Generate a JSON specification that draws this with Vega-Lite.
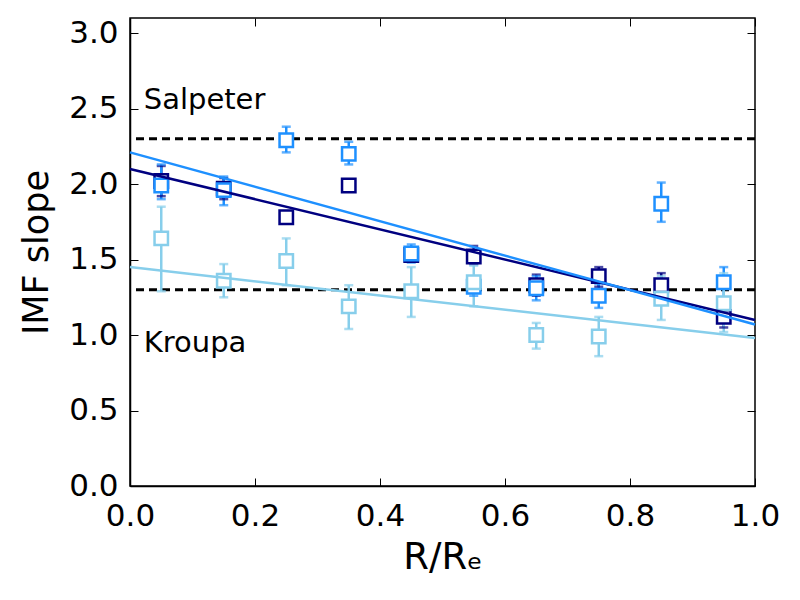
{
  "$schema": "https://vega.github.io/schema/vega-lite/v6.json",
  "width": 625,
  "height": 468,
  "autosize": "none",
  "padding": {"left": 130, "top": 18, "right": 45, "bottom": 114},
  "background": "white",
  "config": {
    "font": "DejaVu Sans",
    "view": {"stroke": "black", "strokeWidth": 1.5},
    "axis": {
      "grid": false,
      "domainColor": "black",
      "domainWidth": 1.5,
      "tickColor": "black",
      "tickWidth": 1,
      "tickSize": -8,
      "labelFlush": false,
      "labelFont": "DejaVu Sans",
      "labelFontSize": 31,
      "labelColor": "black",
      "titleFont": "DejaVu Sans",
      "titleFontWeight": "normal",
      "titleColor": "black"
    }
  },
  "datasets": {
    "points": [
      {"series": "a", "r": 0.05, "imf": 2.02, "lo": 1.92, "hi": 2.12},
      {"series": "a", "r": 0.15, "imf": 1.97, "lo": 1.90, "hi": 2.04},
      {"series": "a", "r": 0.25, "imf": 1.78, "lo": 1.76, "hi": 1.80},
      {"series": "a", "r": 0.35, "imf": 1.99, "lo": 1.97, "hi": 2.01},
      {"series": "a", "r": 0.45, "imf": 1.53, "lo": 1.49, "hi": 1.57},
      {"series": "a", "r": 0.55, "imf": 1.52, "lo": 1.47, "hi": 1.59},
      {"series": "a", "r": 0.65, "imf": 1.33, "lo": 1.26, "hi": 1.40},
      {"series": "a", "r": 0.75, "imf": 1.39, "lo": 1.32, "hi": 1.45},
      {"series": "a", "r": 0.85, "imf": 1.33, "lo": 1.25, "hi": 1.41},
      {"series": "a", "r": 0.95, "imf": 1.12, "lo": 1.05, "hi": 1.19},
      {"series": "b", "r": 0.05, "imf": 1.99, "lo": 1.90, "hi": 2.13},
      {"series": "b", "r": 0.15, "imf": 1.96, "lo": 1.86, "hi": 2.05},
      {"series": "b", "r": 0.25, "imf": 2.29, "lo": 2.21, "hi": 2.38},
      {"series": "b", "r": 0.35, "imf": 2.20, "lo": 2.13, "hi": 2.28},
      {"series": "b", "r": 0.45, "imf": 1.54, "lo": 1.48, "hi": 1.60},
      {"series": "b", "r": 0.55, "imf": 1.32, "lo": 1.26, "hi": 1.38},
      {"series": "b", "r": 0.65, "imf": 1.31, "lo": 1.23, "hi": 1.39},
      {"series": "b", "r": 0.75, "imf": 1.26, "lo": 1.18, "hi": 1.34},
      {"series": "b", "r": 0.85, "imf": 1.87, "lo": 1.75, "hi": 2.01},
      {"series": "b", "r": 0.95, "imf": 1.35, "lo": 1.25, "hi": 1.45},
      {"series": "c", "r": 0.05, "imf": 1.64, "lo": 1.29, "hi": 1.85},
      {"series": "c", "r": 0.15, "imf": 1.36, "lo": 1.25, "hi": 1.47},
      {"series": "c", "r": 0.25, "imf": 1.49, "lo": 1.33, "hi": 1.64},
      {"series": "c", "r": 0.35, "imf": 1.19, "lo": 1.04, "hi": 1.33},
      {"series": "c", "r": 0.45, "imf": 1.29, "lo": 1.12, "hi": 1.45},
      {"series": "c", "r": 0.55, "imf": 1.35, "lo": 1.19, "hi": 1.46},
      {"series": "c", "r": 0.65, "imf": 1.00, "lo": 0.91, "hi": 1.08},
      {"series": "c", "r": 0.75, "imf": 0.99, "lo": 0.86, "hi": 1.12},
      {"series": "c", "r": 0.85, "imf": 1.24, "lo": 1.10, "hi": 1.39},
      {"series": "c", "r": 0.95, "imf": 1.21, "lo": 1.02, "hi": 1.41}
    ],
    "fits": [
      {"series": "a", "r": 0, "imf": 2.10},
      {"series": "a", "r": 1, "imf": 1.10},
      {"series": "b", "r": 0, "imf": 2.21},
      {"series": "b", "r": 1, "imf": 1.07},
      {"series": "c", "r": 0, "imf": 1.45},
      {"series": "c", "r": 1, "imf": 0.98}
    ],
    "refs": [
      {"name": "Salpeter", "imf": 2.3, "r": 0.022, "ty": 2.5},
      {"name": "Kroupa", "imf": 1.3, "r": 0.022, "ty": 0.89}
    ]
  },
  "layer": [
    {
      "data": {"name": "refs"},
      "mark": {"type": "rule", "color": "black", "strokeWidth": 3, "strokeDash": [8, 5]},
      "encoding": {
        "y": {
          "field": "imf",
          "type": "quantitative",
          "scale": {"domain": [0, 3.1], "nice": false, "zero": false, "padding": 0},
          "axis": {
            "orient": "left",
            "values": [0, 0.5, 1, 1.5, 2, 2.5, 3],
            "format": ".1f",
            "labelPadding": 20,
            "title": "IMF slope",
            "titleFontSize": 35,
            "titlePadding": 14
          }
        }
      }
    },
    {
      "data": {"name": "points"},
      "mark": {"type": "rule", "strokeWidth": 2.5},
      "encoding": {
        "x": {
          "field": "r",
          "type": "quantitative",
          "scale": {"domain": [0, 1], "nice": false, "zero": false, "padding": 0},
          "axis": {
            "orient": "bottom",
            "values": [0, 0.2, 0.4, 0.6, 0.8, 1],
            "format": ".1f",
            "labelPadding": 23,
            "title": "R/Rₑ",
            "titleFontSize": 37,
            "titlePadding": 8
          }
        },
        "y": {"field": "lo", "type": "quantitative", "axis": null},
        "y2": {"field": "hi"},
        "color": {
          "field": "series",
          "type": "nominal",
          "scale": {"domain": ["a", "b", "c"], "range": ["#000080", "#1E90FF", "#87CEEB"]},
          "legend": null
        }
      }
    },
    {
      "data": {"name": "points"},
      "mark": {"type": "tick", "orient": "horizontal", "size": 9, "thickness": 2.5},
      "encoding": {
        "x": {"field": "r", "type": "quantitative", "axis": null},
        "y": {"field": "lo", "type": "quantitative", "axis": null},
        "color": {"field": "series", "type": "nominal", "legend": null}
      }
    },
    {
      "data": {"name": "points"},
      "mark": {"type": "tick", "orient": "horizontal", "size": 9, "thickness": 2.5},
      "encoding": {
        "x": {"field": "r", "type": "quantitative", "axis": null},
        "y": {"field": "hi", "type": "quantitative", "axis": null},
        "color": {"field": "series", "type": "nominal", "legend": null}
      }
    },
    {
      "data": {"name": "points"},
      "mark": {"type": "point", "shape": "square", "filled": false, "fill": "white", "fillOpacity": 1, "size": 180, "strokeWidth": 2.5, "opacity": 1},
      "encoding": {
        "x": {"field": "r", "type": "quantitative", "axis": null},
        "y": {"field": "imf", "type": "quantitative", "axis": null},
        "color": {"field": "series", "type": "nominal", "legend": null}
      }
    },
    {
      "data": {"name": "fits"},
      "mark": {"type": "line", "strokeWidth": 2.5},
      "encoding": {
        "x": {
          "field": "r",
          "type": "quantitative",
          "axis": {"orient": "top", "values": [0, 0.2, 0.4, 0.6, 0.8, 1], "labels": false, "title": null, "domain": false}
        },
        "y": {
          "field": "imf",
          "type": "quantitative",
          "axis": {"orient": "right", "values": [0, 0.5, 1, 1.5, 2, 2.5, 3], "labels": false, "title": null, "domain": false}
        },
        "color": {"field": "series", "type": "nominal", "legend": null}
      }
    },
    {
      "data": {"name": "refs"},
      "mark": {"type": "text", "align": "left", "baseline": "alphabetic", "fontSize": 29, "color": "black"},
      "encoding": {
        "x": {"field": "r", "type": "quantitative", "axis": null},
        "y": {"field": "ty", "type": "quantitative", "axis": null},
        "text": {"field": "name"}
      }
    }
  ],
  "resolve": {"axis": {"x": "independent", "y": "independent"}}
}
